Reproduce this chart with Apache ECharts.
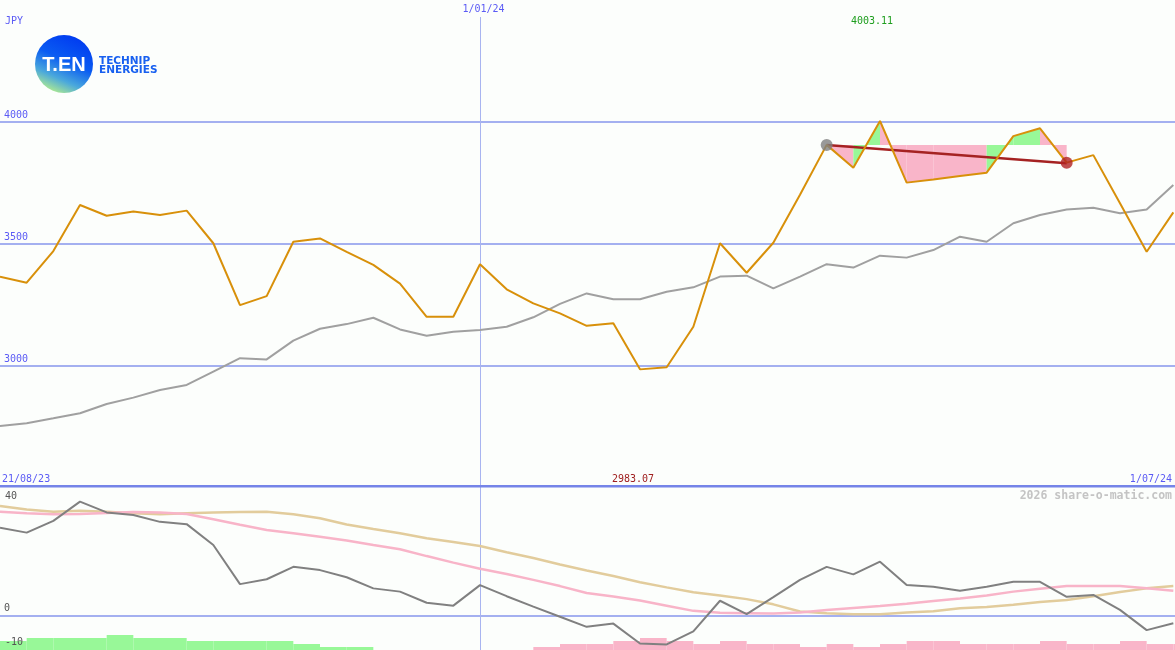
<!DOCTYPE html>
<html><head><meta charset="utf-8">
<script src="https://cdn.jsdelivr.net/npm/echarts@6/dist/echarts.min.js"></script>
<style>html,body{margin:0;padding:0;background:#fcfefc}#c{width:1175px;height:650px}</style>
</head><body><div id="c"></div>
<script>
// ---- data (weekly closes, index 0 = 28/08/23 ... index 44 = 1/07/24) ----
const priceData = [3364,3339,3469,3658,3614,3631,3617,3635,3501,3247,
  3284,3507,3521,3466,3412,3335,3199,3199,3415,3312,
  3254,3213,3162,3172,2983.07,2992,3158,3501,3380,3503,
  3700,3905,3811,4003.11,3750,3763,3777,3791,3941,3973,
  3832,3863,3665,3466,3628];
const maData = [2750,2762,2782,2803,2841,2867,2898,2919,2974,3029,
  3024,3101,3150,3169,3195,3147,3121,3138,3145,3158,
  3197,3252,3295,3271,3271,3302,3320,3364,3368,3316,
  3364,3415,3401,3450,3442,3473,3528,3507,3583,3617,
  3640,3647,3624,3640,3740];
const momentumData = [26.9,25.4,29.0,34.9,31.6,30.8,28.7,28.0,21.6,9.6,
  11.1,14.9,13.9,11.7,8.3,7.3,3.9,3.0,9.3,5.9,
  2.7,-0.4,-3.5,-2.5,-8.6,-8.9,-4.9,4.5,0.4,5.6,
  10.9,14.9,12.6,16.5,9.3,8.8,7.6,8.8,10.3,10.3,
  5.7,6.3,1.7,-4.5,-2.4];
const pinkAvgData = [31.8,31.3,31.0,31.1,31.4,31.7,31.6,31.1,29.5,27.8,
  26.2,25.2,24.1,23.0,21.6,20.3,18.2,16.2,14.3,12.7,
  10.9,9.0,6.9,5.8,4.6,3.0,1.4,0.8,0.7,0.6,
  0.9,1.7,2.3,2.9,3.6,4.4,5.2,6.1,7.3,8.2,
  9.0,9.0,9.0,8.3,7.6];
const tanAvgData = [33.6,32.5,31.8,32.1,31.8,31.3,31.0,31.3,31.6,31.7,
  31.8,31.0,29.8,27.9,26.5,25.2,23.7,22.5,21.3,19.4,
  17.6,15.6,13.8,12.1,10.2,8.6,7.1,6.1,5.0,3.4,
  1.2,0.7,0.4,0.4,0.9,1.3,2.2,2.6,3.3,4.1,
  4.7,5.9,7.2,8.3,9.0];
// histogram levels: positive = green, negative = pink
const histData = [3,4,4,4,5,4,4,3,3,3,3,2,1,1,0,0,0,0,0,0,
  -1,-2,-2,-3,-4,-3,-2,-3,-2,-2,-1,-2,-1,-2,-3,-3,-2,-2,-2,-3,-2,-2,-3,-2,-2];
// trend segment
const trendStart = [31, 3905];
const trendEnd = [40, 3830];
const fillLevel = 3905;
const fillStartIndex = 31;
const fillDirections = ['down','up','down','down','down','down','up','up','down'];
// labels
const priceTicks = [3000, 3500, 4000];
const lowerGridTicks = [0];
const lowerExtraTicks = [40, -10];
const yearMarkIndex = 18;
const yearMarkLabel = '1/01/24';
const startLabel = '21/08/23';
const endLabel = '1/07/24';
const currencyLabel = 'JPY';
const maxIndex = 33, minIndex = 24;
const maxLabel = '4003.11', minLabel = '2983.07';
const watermark = '2026 share-o-matic.com';

const X_MAX = 44.0625;
const MONO = 'DejaVu Sans Mono';
const BLUE_TXT = '#5b5bf5';
const GRID_LINE = '#a4b0f0';

const pairs = arr => arr.map((v, i) => [i, v]);

const chart = echarts.init(document.getElementById('c'));

const option = {
  backgroundColor: '#fcfefc',
  animation: false,
  grid: [
    {left: 0, right: 0, top: 0, height: 487},
    {left: 0, right: 0, top: 485, height: 165}
  ],
  xAxis: [
    {type: 'value', gridIndex: 0, min: 0, max: X_MAX, show: false},
    {type: 'value', gridIndex: 1, min: 0, max: X_MAX, show: false}
  ],
  yAxis: [
    {type: 'value', gridIndex: 0, min: 2500, max: 4500, show: false},
    {type: 'value', gridIndex: 1, min: -10.6, max: 40, show: false},
    {type: 'value', gridIndex: 1, min: 0, max: 55, show: false}
  ],
  series: [
    {
      type: 'custom', xAxisIndex: 0, yAxisIndex: 0, z: 1, silent: true,
      data: fillDirections.map((d, k) => [fillStartIndex + k, priceData[fillStartIndex + k], priceData[fillStartIndex + k + 1], d === 'up' ? 1 : 0]),
      renderItem(params, api) {
        const i = api.value(0);
        const a = api.coord([i, fillLevel]);
        const b = api.coord([i, api.value(1)]);
        const c = api.coord([i + 1, api.value(2)]);
        const d = api.coord([i + 1, fillLevel]);
        return {type: 'polygon', shape: {points: [a, b, c, d]},
          style: {fill: api.value(3) ? '#98f898' : '#f9b5c9'}};
      }
    },
    {type: 'line', xAxisIndex: 0, yAxisIndex: 0, z: 2, data: pairs(maData), showSymbol: false,
      lineStyle: {color: '#a0a0a0', width: 2}},
    {type: 'line', xAxisIndex: 0, yAxisIndex: 0, z: 3, data: [trendStart, trendEnd], showSymbol: false,
      lineStyle: {color: '#a52222', width: 2.5}},
    {type: 'line', xAxisIndex: 0, yAxisIndex: 0, z: 4, data: pairs(priceData), showSymbol: false,
      lineStyle: {color: '#d8900a', width: 2},
      markLine: {
        silent: true, symbol: 'none', z: 0,
        lineStyle: {color: GRID_LINE, width: 2, type: 'solid'},
        label: {position: 'insideStartTop', distance: [4, 1], color: BLUE_TXT,
          fontFamily: MONO, fontSize: 10, formatter: p => String(p.value)},
        data: priceTicks.map(v => ({yAxis: v}))
      }},
    {type: 'scatter', xAxisIndex: 0, yAxisIndex: 0, z: 5, symbolSize: 12,
      data: [{value: trendStart, itemStyle: {color: '#808080'}},
             {value: [trendEnd[0], priceData[trendEnd[0]]], itemStyle: {color: '#b02222'}}]},
    {
      type: 'custom', xAxisIndex: 1, yAxisIndex: 2, z: 1, silent: true,
      data: histData.map((v, i) => [i, Math.abs(v), v > 0 ? 1 : 0]).filter(d => d[1] > 0),
      renderItem(params, api) {
        const i = api.value(0);
        const p0 = api.coord([i, api.value(1)]);
        const p1 = api.coord([i + 1, 0]);
        return {type: 'rect', shape: {x: p0[0], y: p0[1], width: p1[0] - p0[0], height: p1[1] - p0[1]},
          style: {fill: api.value(2) ? '#98f898' : '#f9b5c9'}};
      }
    },
    {type: 'line', xAxisIndex: 1, yAxisIndex: 1, z: 2, data: pairs(tanAvgData), showSymbol: false,
      lineStyle: {color: '#e2cc9c', width: 2.5}},
    {type: 'line', xAxisIndex: 1, yAxisIndex: 1, z: 3, data: pairs(pinkAvgData), showSymbol: false,
      lineStyle: {color: '#f8b4c8', width: 2.5}},
    {type: 'line', xAxisIndex: 1, yAxisIndex: 1, z: 4, data: pairs(momentumData), showSymbol: false,
      lineStyle: {color: '#808080', width: 2},
      markLine: {
        silent: true, symbol: 'none', z: 0,
        lineStyle: {color: GRID_LINE, width: 2, type: 'solid'},
        label: {position: 'insideStartTop', distance: [4, 2], color: '#555', fontFamily: MONO, fontSize: 10,
          formatter: p => String(p.value)},
        data: lowerGridTicks.map(v => ({yAxis: v}))
      }}
  ]
};
chart.setOption(option);

const xMark = Math.round(chart.convertToPixel({xAxisIndex: 0}, yearMarkIndex)) + 0.5;
const xMax = chart.convertToPixel({xAxisIndex: 0}, maxIndex);
const xMin = chart.convertToPixel({xAxisIndex: 0}, minIndex);
const lowerTop = 487, lowerBottom = 650;
const extraLabels = lowerExtraTicks.map(v => {
  let y = chart.convertToPixel({yAxisIndex: 1}, v) - 6;
  y = Math.max(lowerTop + 9, Math.min(lowerBottom - 8, y));
  return {type: 'text', x: 5, y: y, z: 20,
    style: {text: String(v), font: '10px ' + MONO, fill: '#555', verticalAlign: 'middle'}};
});

chart.setOption({
  graphic: [
    {type: 'line', z: 0, silent: true, shape: {x1: xMark, y1: 17, x2: xMark, y2: 650},
      style: {stroke: '#a8b4f0', lineWidth: 1}},
    {type: 'rect', z: 10, silent: true, shape: {x: 0, y: 485, width: 1175, height: 2.5},
      style: {fill: '#7584e8'}},
    {type: 'text', x: 5, y: 21, style: {text: currencyLabel, font: '10px ' + MONO, fill: BLUE_TXT, verticalAlign: 'middle'}},
    {type: 'text', x: xMark + 3, y: 9, style: {text: yearMarkLabel, font: '10px ' + MONO, fill: BLUE_TXT, align: 'center', verticalAlign: 'middle'}},
    {type: 'text', x: xMax - 8, y: 21, style: {text: maxLabel, font: '10px ' + MONO, fill: '#1e9e1e', align: 'center', verticalAlign: 'middle'}},
    {type: 'text', x: xMin - 7, y: 479, style: {text: minLabel, font: '10px ' + MONO, fill: '#a02020', align: 'center', verticalAlign: 'middle'}},
    {type: 'text', x: 2, y: 479, style: {text: startLabel, font: '10px ' + MONO, fill: BLUE_TXT, verticalAlign: 'middle'}},
    {type: 'text', x: 1172, y: 479, style: {text: endLabel, font: '10px ' + MONO, fill: BLUE_TXT, align: 'right', verticalAlign: 'middle'}},
    {type: 'text', x: 1172, y: 496, style: {text: watermark, font: 'bold 11.5px ' + MONO, fill: '#c4c4c4', align: 'right', verticalAlign: 'middle'}},
    ...extraLabels,
    {type: 'circle', shape: {cx: 64, cy: 64, r: 29},
      style: {fill: new echarts.graphic.LinearGradient(0.75, 0, 0.3, 1, [
        {offset: 0, color: '#0038f0'}, {offset: 0.45, color: '#0a5cf2'},
        {offset: 0.75, color: '#4aa8dc'}, {offset: 1, color: '#b4ee8c'}])}},
    {type: 'text', x: 64, y: 65, style: {text: 'T.EN', font: 'bold 20px "Liberation Sans"', fill: '#ffffff', align: 'center', verticalAlign: 'middle'}},
    {type: 'text', x: 99, y: 61, style: {text: 'TECHNIP', font: 'bold 10.5px "DejaVu Sans"', fill: '#1860f0', verticalAlign: 'middle'}},
    {type: 'text', x: 99, y: 70.5, style: {text: 'ENERGIES', font: 'bold 10.5px "DejaVu Sans"', fill: '#1860f0', verticalAlign: 'middle'}}
  ]
});
</script></body></html>
